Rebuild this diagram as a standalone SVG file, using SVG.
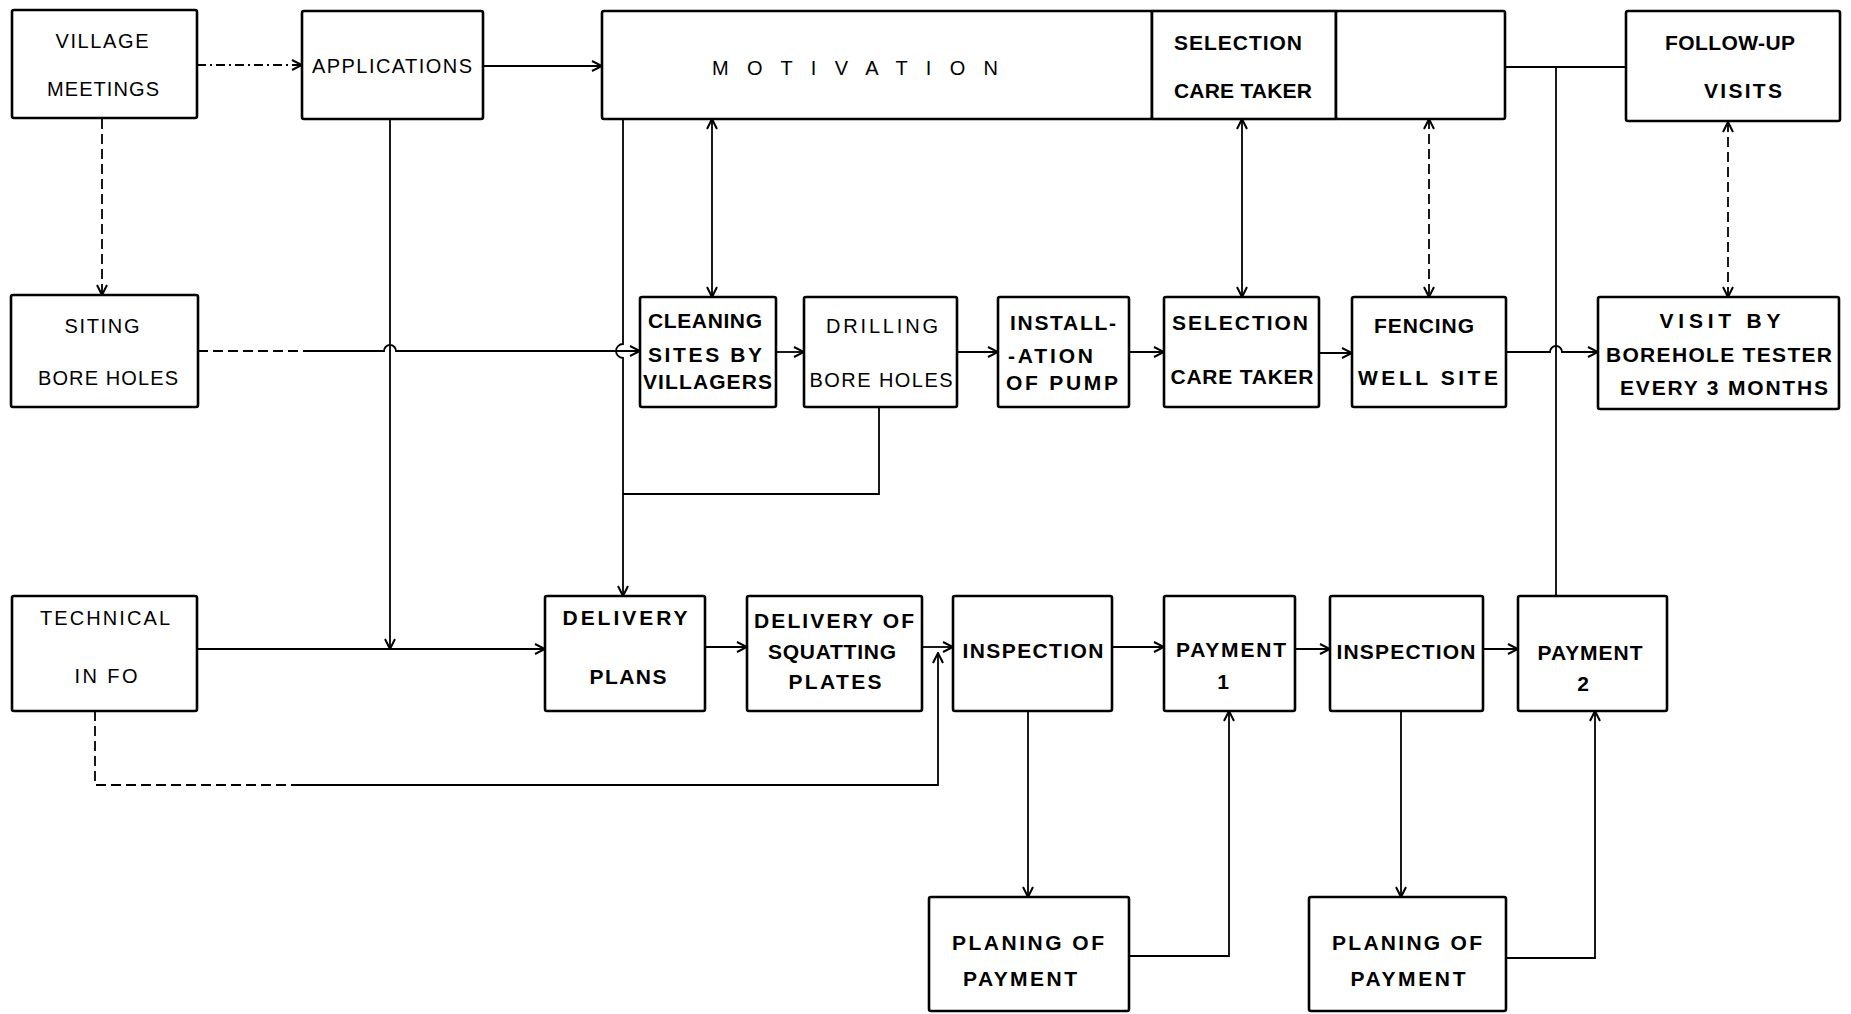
<svg xmlns="http://www.w3.org/2000/svg" width="1851" height="1014" viewBox="0 0 1851 1014">
<defs>
<marker id="arr" viewBox="0 0 12 12" refX="11" refY="6" markerWidth="12" markerHeight="12" markerUnits="userSpaceOnUse" orient="auto-start-reverse">
<path d="M1,1 L11,6 L1,11" fill="none" stroke="#000" stroke-width="2"/>
</marker>
<style>
.box{fill:#fff;stroke:#000;stroke-width:2.6}
.c{fill:none;stroke:#000;stroke-width:1.8}
.a{marker-end:url(#arr)}
.d{marker-start:url(#arr);marker-end:url(#arr)}
.dash{stroke-dasharray:10 5}
.dd{stroke-dasharray:9 4 2 4}
text{font-family:"Liberation Sans",Arial,sans-serif;fill:#000;text-anchor:middle}
.n{font-size:20px}
.b{font-size:21px;font-weight:bold}
.l{text-anchor:start}
</style>
</defs>
<rect width="1851" height="1014" fill="#fff"/>

<g id="connectors">
<path class="c a dd" d="M197,65 H302"/>
<path class="c a" d="M483,66 H602"/>
<path class="c a dash" d="M102,119 V295"/>
<path class="c dash" d="M198,351 H305"/>
<path class="c a" d="M305,351 H384 A6,6 0 0,1 396,351 H640"/>
<path class="c a" d="M390,119 V649"/>
<path class="c a" d="M197,649 H545"/>
<path class="c a" d="M623,119 V344 A7,7 0 0,0 623,358 V596"/>
<path class="c" d="M879,407 V494 H623"/>
<path class="c d" d="M712,119 V297"/>
<path class="c a" d="M776,352 H804"/>
<path class="c a" d="M957,352 H998"/>
<path class="c a" d="M1129,352 H1164"/>
<path class="c d" d="M1242,119 V297"/>
<path class="c a" d="M1319,353 H1352"/>
<path class="c d dash" d="M1429,119 V297"/>
<path class="c a" d="M1506,352 H1550 A6,6 0 0,1 1562,352 H1598"/>
<path class="c" d="M1505,67 H1626"/>
<path class="c" d="M1556,67 V596"/>
<path class="c d dash" d="M1728,122 V297"/>
<path class="c a" d="M705,647 H747"/>
<path class="c a" d="M922,647 H953"/>
<path class="c dash" d="M95,711 V785 H300"/>
<path class="c a" d="M300,785 H938 V653"/>
<path class="c a" d="M1112,647 H1164"/>
<path class="c a" d="M1028,711 V897"/>
<path class="c a" d="M1129,956 H1229 V711"/>
<path class="c a" d="M1295,649 H1330"/>
<path class="c a" d="M1483,649 H1518"/>
<path class="c a" d="M1401,711 V897"/>
<path class="c a" d="M1506,958 H1595 V711"/>
</g>

<g id="village-meetings">
<rect class="box" x="12" y="10" width="185" height="108" rx="2"/>
<text class="n" x="102" y="48" textLength="93">VILLAGE</text>
<text class="n" x="103" y="96" textLength="112">MEETINGS</text>
</g>
<g id="applications">
<rect class="box" x="302" y="11" width="181" height="108" rx="2"/>
<text class="n" x="392" y="73" textLength="160">APPLICATIONS</text>
</g>
<g id="motivation">
<rect class="box" x="602" y="11" width="550" height="108" rx="2"/>
<text class="n" x="855" y="75" textLength="286">M O T I V A T I O N</text>
</g>
<g id="motivation-selection-care-taker">
<rect class="box" x="1152" y="11" width="184" height="108"/>
<text class="b" x="1238" y="50" textLength="128">SELECTION</text>
<text class="b" x="1243" y="98" textLength="138">CARE TAKER</text>
</g>
<g id="motivation-fencing">
<rect class="box" x="1336" y="11" width="169" height="108" rx="2"/>
</g>
<g id="follow-up-visits">
<rect class="box" x="1626" y="11" width="214" height="110" rx="2"/>
<text class="b" x="1730" y="50" textLength="130">FOLLOW-UP</text>
<text class="b" x="1743" y="98" textLength="78">VISITS</text>
</g>

<g id="siting-bore-holes">
<rect class="box" x="11" y="295" width="187" height="112" rx="2"/>
<text class="n" x="102" y="333" textLength="75">SITING</text>
<text class="n" x="108" y="385" textLength="140">BORE HOLES</text>
</g>
<g id="cleaning-sites">
<rect class="box" x="640" y="297" width="136" height="110" rx="2"/>
<text class="b l" x="648" y="328" textLength="114">CLEANING</text>
<text class="b l" x="648" y="362" textLength="114">SITES BY</text>
<text class="b l" x="643" y="389" textLength="129">VILLAGERS</text>
</g>
<g id="drilling-bore-holes">
<rect class="box" x="804" y="297" width="153" height="110" rx="2"/>
<text class="n" x="882" y="333" textLength="112">DRILLING</text>
<text class="n" x="881" y="387" textLength="143">BORE HOLES</text>
</g>
<g id="installation-of-pump">
<rect class="box" x="998" y="297" width="131" height="110" rx="2"/>
<text class="b l" x="1010" y="330" textLength="106">INSTALL-</text>
<text class="b l" x="1008" y="363" textLength="85">-ATION</text>
<text class="b l" x="1006" y="390" textLength="112">OF PUMP</text>
</g>
<g id="selection-care-taker">
<rect class="box" x="1164" y="297" width="155" height="110" rx="2"/>
<text class="b" x="1240" y="330" textLength="136">SELECTION</text>
<text class="b" x="1242" y="384" textLength="143">CARE TAKER</text>
</g>
<g id="fencing-well-site">
<rect class="box" x="1352" y="297" width="154" height="110" rx="2"/>
<text class="b" x="1424" y="333" textLength="100">FENCING</text>
<text class="b" x="1428" y="385" textLength="140">WELL SITE</text>
</g>
<g id="visit-by-borehole-tester">
<rect class="box" x="1598" y="297" width="241" height="112" rx="2"/>
<text class="b" x="1720" y="328" textLength="121">VISIT BY</text>
<text class="b" x="1719" y="362" textLength="226">BOREHOLE TESTER</text>
<text class="b" x="1724" y="395" textLength="208">EVERY 3 MONTHS</text>
</g>

<g id="technical-info">
<rect class="box" x="12" y="596" width="185" height="115" rx="2"/>
<text class="n" x="105" y="625" textLength="130">TECHNICAL</text>
<text class="n" x="106" y="683" textLength="63">IN FO</text>
</g>
<g id="delivery-plans">
<rect class="box" x="545" y="596" width="160" height="115" rx="2"/>
<text class="b" x="625" y="625" textLength="125">DELIVERY</text>
<text class="b" x="628" y="684" textLength="77">PLANS</text>
</g>
<g id="delivery-squatting-plates">
<rect class="box" x="747" y="596" width="175" height="115" rx="2"/>
<text class="b" x="834" y="628" textLength="160">DELIVERY OF</text>
<text class="b" x="832" y="659" textLength="128">SQUATTING</text>
<text class="b" x="835" y="689" textLength="93">PLATES</text>
</g>
<g id="inspection-1">
<rect class="box" x="953" y="596" width="159" height="115" rx="2"/>
<text class="b" x="1033" y="658" textLength="141">INSPECTION</text>
</g>
<g id="payment-1">
<rect class="box" x="1164" y="596" width="131" height="115" rx="2"/>
<text class="b" x="1231" y="657" textLength="110">PAYMENT</text>
<text class="b" x="1223" y="689">1</text>
</g>
<g id="inspection-2">
<rect class="box" x="1330" y="596" width="153" height="115" rx="2"/>
<text class="b" x="1406" y="659" textLength="139">INSPECTION</text>
</g>
<g id="payment-2">
<rect class="box" x="1518" y="596" width="149" height="115" rx="2"/>
<text class="b" x="1590" y="660" textLength="105">PAYMENT</text>
<text class="b" x="1583" y="691">2</text>
</g>
<g id="planing-of-payment-1">
<rect class="box" x="929" y="897" width="200" height="114" rx="2"/>
<text class="b" x="1028" y="950" textLength="152">PLANING OF</text>
<text class="b" x="1020" y="986" textLength="114">PAYMENT</text>
</g>
<g id="planing-of-payment-2">
<rect class="box" x="1309" y="897" width="197" height="114" rx="2"/>
<text class="b" x="1407" y="950" textLength="150">PLANING OF</text>
<text class="b" x="1408" y="986" textLength="115">PAYMENT</text>
</g>
</svg>
